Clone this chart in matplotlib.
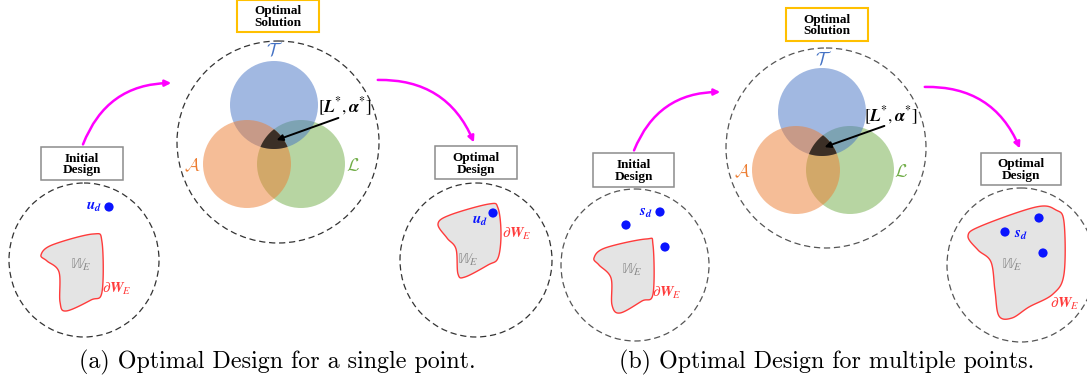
import numpy as np
import matplotlib
matplotlib.use("Agg")
import matplotlib.pyplot as plt
from matplotlib.patches import Circle, Ellipse, Polygon, Rectangle, FancyArrowPatch

W, H = 1087, 385
BLUE, ORANGE, GREEN = "#4472c4", "#ed7d31", "#70ad47"
MAG, RED, DOT = "#ff00ff", "#ff3b3b", "#0a14ff"

# ---- diagram geometry (pixel space of the reference), one entry per panel ----
captions = ["(a) Optimal Design for a single point.", "(b) Optimal Design for multiple points."]
caption_x = [277, 827]
sol_box = [(237, 0, 82, 32), (786, 8, 82, 33)]
big_circle = [(278, 142, 101), (826, 148, 100)]
venn_T = [(274, 105, 44), (822, 112, 44)]
venn_A = [(247, 164, 44), (796, 170, 44)]
venn_L = [(301, 164, 44), (850, 170, 44)]
lab_T = [(275, 51), (824, 60)]
lab_A = [(192, 166), (742, 172)]
lab_L = [(353, 166), (901, 172)]
lab_star = [(345, 107), (891, 116)]
black_arrow = [((341, 117), (274, 141)), ((887, 125), (822, 148))]
init_box = [(41, 147, 82, 33), (593, 153, 81, 34)]
opt_box = [(435, 146, 82, 33), (981, 153, 80, 32)]
arrow_in = [((82, 147), (174, 83)), ((633, 153), (723, 92))]
arrow_out = [((375, 80), (475, 145)), ((922, 87), (1021, 151))]
left_circ = [(84, 260, 75, 77), (635, 265, 74, 76)]
right_circ = [(476, 260, 76, 77), (1021, 265, 74, 77)]
region_init = [
    [(41, 255), (52, 245), (93, 234), (102, 242), (102, 292), (91, 300), (66, 311), (60, 302), (59, 272), (47, 261)],
    [(594, 258), (605, 248), (646, 239), (653, 245), (653, 294), (642, 301), (620, 313), (612, 305), (611, 278), (599, 265)],
]
region_opt = [
    [(438, 224), (450, 215), (489, 204), (498, 208), (501, 234), (498, 258), (488, 265), (465, 277), (458, 274), (456, 249), (447, 238)],
    [(968, 236), (981, 226), (1036, 207), (1056, 210), (1064, 222), (1064, 274), (1053, 294), (1029, 307), (1012, 318), (999, 316),
     (995, 291), (991, 262), (978, 250)],
]
dots_init = [[(109, 207)], [(660, 212), (626, 225), (665, 247)]]
dots_opt = [[(493, 213)], [(1039, 218), (1005, 232), (1043, 253)]]
pt_name = [r"$\mathbfit{u}_{\mathbfit{d}}$", r"$\mathbfit{s}_{\mathbfit{d}}$"]
pt_lab_init = [(94, 206), (646, 212)]
pt_lab_opt = [(480, 220), (1021, 235)]
we_init = [(81, 265), (632, 270)]
we_opt = [(468, 260), (1012, 265)]
dwe_init = [(117, 289), (667, 293)]
dwe_opt = [(517, 234), (1065, 304)]
dash_col = ["#333333", "#555555"]


def smooth(pts, n=24):
    P = np.asarray(pts, float)
    m = len(P)
    t = np.linspace(0, 1, n, endpoint=False)[:, None]
    out = []
    for i in range(m):
        p0, p1, p2, p3 = P[i - 1], P[i], P[(i + 1) % m], P[(i + 2) % m]
        out.append(0.5 * (2 * p1 + (-p0 + p2) * t + (2 * p0 - 5 * p1 + 4 * p2 - p3) * t ** 2
                          + (-p0 + 3 * p1 - 3 * p2 + p3) * t ** 3))
    return np.vstack(out)


def triple(circles, n=720):
    a = np.linspace(0, 2 * np.pi, n)
    pts = []
    for i, (cx, cy, r) in enumerate(circles):
        p = np.c_[cx + r * np.cos(a), cy + r * np.sin(a)]
        keep = np.ones(len(p), bool)
        for j, (ox, oy, orr) in enumerate(circles):
            if j != i:
                keep &= (p[:, 0] - ox) ** 2 + (p[:, 1] - oy) ** 2 <= orr ** 2 + 1e-6
        pts.append(p[keep])
    pts = np.vstack(pts)
    c = pts.mean(0)
    return pts[np.argsort(np.arctan2(pts[:, 1] - c[1], pts[:, 0] - c[0]))]


def box(ax, rect, text, ec, lw):
    x, y, w, h = rect
    ax.add_patch(Rectangle((x, y), w, h, fc="white", ec=ec, lw=lw, zorder=5))
    ax.text(x + w / 2, y + h / 2 + 1, text, ha="center", va="center", fontsize=9.5,
            family="Liberation Serif", fontweight="bold", linespacing=1.0, zorder=6)


def curved(ax, p, q, rad):
    ax.add_patch(FancyArrowPatch(p, q, connectionstyle="arc3,rad=%s" % rad, arrowstyle="-|>",
                                 mutation_scale=9, color=MAG, lw=1.8, zorder=4))


def design(ax, circ, region, dots, plab, name, we, dwe, col):
    cx, cy, rx, ry = circ
    ax.add_patch(Ellipse((cx, cy), 2 * rx, 2 * ry, fill=False, ec=col, lw=0.9, ls=(0, (5, 3)), zorder=2))
    ax.add_patch(Polygon(smooth(region), closed=True, fc="#e4e4e4", ec=RED, lw=1.0, zorder=3))
    for d in dots:
        ax.add_patch(Circle(d, 4.6, fc=DOT, ec="none", zorder=4))
    ax.text(*plab, name, color=DOT, fontsize=11, ha="center", va="center", math_fontfamily="stix", zorder=5)
    ax.text(*we, r"$\mathbb{W}_{E}$", color="#8a8a8a", fontsize=11, ha="center", va="center",
            math_fontfamily="stix", zorder=5)
    ax.text(*dwe, r"$\partial\mathbfit{W}_{E}$", color=RED, fontsize=11, ha="center", va="center",
            math_fontfamily="stix", zorder=5)


fig = plt.figure(figsize=(W / 100, H / 100), dpi=100)
ax = fig.add_axes([0, 0, 1, 1])
ax.set_xlim(0, W)
ax.set_ylim(H, 0)
ax.axis("off")

for k in range(2):
    box(ax, sol_box[k], "Optimal\nSolution", "#ffc000", 1.5)
    bx, by, br = big_circle[k]
    ax.add_patch(Circle((bx, by), br, fill=False, ec=dash_col[k], lw=0.9, ls=(0, (5, 3)), zorder=2))
    # green, blue, orange gives the overlap tints seen in the picture
    for c, col in [(venn_L[k], GREEN), (venn_T[k], BLUE), (venn_A[k], ORANGE)]:
        ax.add_patch(Circle(c[:2], c[2], fc=col, ec="none", alpha=0.5, zorder=2))
    ax.add_patch(Polygon(triple([venn_T[k], venn_A[k], venn_L[k]]), closed=True, fc="#3b2f26",
                         ec="none", zorder=3))
    ax.text(*lab_T[k], r"$\mathcal{T}$", color=BLUE, fontsize=13, ha="center", va="center", math_fontfamily="cm")
    ax.text(*lab_A[k], r"$\mathcal{A}$", color=ORANGE, fontsize=13, ha="center", va="center", math_fontfamily="cm")
    ax.text(*lab_L[k], r"$\mathcal{L}$", color=GREEN, fontsize=13, ha="center", va="center", math_fontfamily="cm")
    ax.text(*lab_star[k], r"$[\mathbfit{L}^{*},\mathbfit{\alpha}^{*}]$", fontsize=12.5, ha="center", va="center",
            math_fontfamily="stix", zorder=6)
    p, q = black_arrow[k]
    ax.add_patch(FancyArrowPatch(p, q, arrowstyle="-|>", mutation_scale=9, color="black", lw=1.4, zorder=6))

    box(ax, init_box[k], "Initial\nDesign", "#8c8c8c", 1.1)
    box(ax, opt_box[k], "Optimal\nDesign", "#8c8c8c", 1.1)
    curved(ax, *arrow_in[k], rad=-0.35)
    curved(ax, *arrow_out[k], rad=-0.35)

    design(ax, left_circ[k], region_init[k], dots_init[k], pt_lab_init[k], pt_name[k],
           we_init[k], dwe_init[k], dash_col[k])
    design(ax, right_circ[k], region_opt[k], dots_opt[k], pt_lab_opt[k], pt_name[k],
           we_opt[k], dwe_opt[k], dash_col[k])

    ax.text(caption_x[k], 362, captions[k], family="cmr10", fontsize=17.3, ha="center", va="center")

fig.savefig("out.png", dpi=100)
